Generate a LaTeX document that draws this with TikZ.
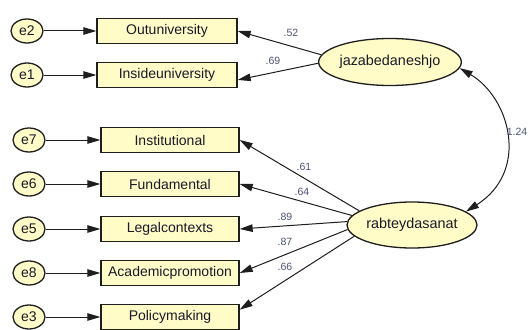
\documentclass[tikz,border=0pt]{standalone}
\usepackage{fontspec}
\setmainfont{Liberation Sans}
\usetikzlibrary{shapes.geometric,arrows.meta}
\definecolor{fillc}{RGB}{255,252,200}
\definecolor{edgec}{RGB}{30,30,30}
\definecolor{numc}{RGB}{75,85,115}
\definecolor{txtc}{RGB}{25,25,40}
\begin{document}
\begin{tikzpicture}[x=1pt,y=-1pt,
  errc/.style={ellipse,draw=edgec,line width=1.3pt,fill=fillc,minimum width=32pt,minimum height=24pt,inner sep=0pt,text=txtc,font=\fontsize{14}{16}\selectfont},
  obs/.style={rectangle,draw=edgec,line width=1.3pt,fill=fillc,minimum height=25pt,inner sep=0pt,text=txtc,font=\fontsize{14}{16}\selectfont},
  lat/.style={ellipse,draw=edgec,line width=1.3pt,fill=fillc,minimum width=130pt,minimum height=47pt,inner sep=0pt,text=txtc,font=\fontsize{14.4}{16}\selectfont},
  conn/.style={draw=edgec,line width=1pt,-{Triangle[length=13pt,width=7.5pt]}},
  coef/.style={font=\fontsize{10.5}{12}\selectfont,text=numc,inner sep=0pt}]
\useasboundingbox[fill=white] (0,0) rectangle (532,329);
% error terms
\node[errc] (e2) at (27,31) {e2};
\node[errc] (e1) at (27,75) {e1};
\node[errc] (e7) at (29,140) {e7};
\node[errc] (e6) at (29,184) {e6};
\node[errc] (e5) at (29,229) {e5};
\node[errc] (e8) at (29,273) {e8};
\node[errc] (e3) at (29,317) {e3};
% observed
\node[obs,minimum width=140pt] (out) at (167,31) {Outuniversity};
\node[obs,minimum width=140pt] (ins) at (167,75) {Insideuniversity};
\node[obs,minimum width=138pt] (inst) at (170,140) {Institutional};
\node[obs,minimum width=138pt] (fun) at (170,184) {Fundamental};
\node[obs,minimum width=138pt] (leg) at (170,229) {Legalcontexts};
\node[obs,minimum width=138pt] (aca) at (170,273) {Academicpromotion};
\node[obs,minimum width=138pt] (pol) at (170,317) {Policymaking};
% latent
\node[lat] (jaz) at (390,62) {jazabedaneshjo};
\node[lat,minimum height=46pt] (rab) at (412,225) {rabteydasanat};
% error arrows
\draw[conn] (e2.east) -- (out.west);
\draw[conn] (e1.east) -- (ins.west);
\draw[conn] (e7.east) -- (inst.west);
\draw[conn] (e6.east) -- (fun.west);
\draw[conn] (e5.east) -- (leg.west);
\draw[conn] (e8.east) -- (aca.west);
\draw[conn] (e3.east) -- (pol.west);
% loadings
\draw[conn] (jaz.174) -- (out.east);
\draw[conn] (jaz.181) -- (ins.-4);
\draw[conn] (rab.165) -- (inst.east);
\draw[conn] (rab.171) -- (fun.east);
\draw[conn] (rab.177) -- (leg.east);
\draw[conn] (rab.184) -- (aca.east);
\draw[conn] (rab.191) -- (pol.6);
% covariance
\draw[draw=edgec,line width=1pt,{Triangle[length=13pt,width=7.5pt]}-{Triangle[length=13pt,width=7.5pt]}]
  (jaz.-5) .. controls (510,98) and (530,171) .. (rab.14);
% coefficients
\node[coef] (c52) at (291,33) {.52};
\node[coef] (c69) at (273,61) {.69};
\node[coef] (c61) at (304,167) {.61};
\node[coef] (c64) at (302,192) {.64};
\node[coef] (c89) at (285,217) {.89};
\node[coef] (c87) at (285,242) {.87};
\node[coef] (c66) at (285,267) {.66};
\node[coef] (c124) at (517,132) {1.24};
\end{tikzpicture}
\end{document}
